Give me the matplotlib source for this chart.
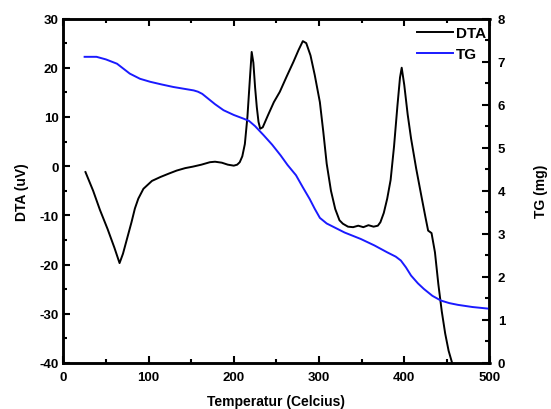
import matplotlib
matplotlib.use("Agg")
import matplotlib.pyplot as plt
from matplotlib.ticker import MultipleLocator

plt.rcParams['font.family'] = 'Liberation Sans'
plt.rcParams['font.weight'] = 'bold'
plt.rcParams['axes.unicode_minus'] = False

# DTA curve (uV) vs temperature (Celcius)
dta_temp = [26, 35, 43, 52, 60, 66, 70, 75, 80, 84, 88, 94, 104, 114, 124, 133,
            143, 152, 162, 172, 178, 186, 193, 200, 204, 207, 210, 213, 216, 219,
            221, 223, 225, 227, 229, 231, 234, 240, 247, 254, 262, 270, 276, 281,
            285, 290, 295, 301, 305, 309, 314, 319, 324, 328, 334, 340, 346, 352,
            358, 364, 369, 372, 376, 380, 384, 388, 392, 395, 397, 400, 404, 408,
            414, 420, 425, 428, 432, 436, 440, 444, 448, 452, 457]
dta_val = [-1.2, -5.0, -8.9, -12.8, -16.6, -19.7, -17.8, -14.6, -11.4, -8.6,
           -6.6, -4.6, -3.0, -2.2, -1.5, -0.9, -0.4, -0.1, 0.3, 0.8, 0.9, 0.7,
           0.3, 0.1, 0.3, 0.8, 2.0, 4.5, 10.0, 18.0, 23.2, 21.0, 16.0, 12.0, 9.0,
           7.6, 7.9, 10.3, 13.0, 15.1, 18.2, 21.2, 23.6, 25.4, 25.0, 22.5, 18.5,
           13.0, 7.0, 0.5, -5.0, -8.7, -11.0, -11.7, -12.3, -12.4, -12.1, -12.4,
           -12.0, -12.3, -12.1, -11.4, -9.5, -6.6, -2.8, 4.0, 12.3, 18.0, 20.0,
           16.5, 10.5, 5.6, -0.5, -6.0, -10.5, -13.1, -13.6, -17.5, -24.0, -29.5,
           -34.0, -37.5, -40.5]

# TG curve (mg) vs temperature
tg_temp = [25, 39, 50, 63, 78, 90, 102, 115, 129, 141, 153, 158, 163, 168, 173,
           178, 188, 200, 212, 218, 225, 235, 245, 255, 263, 273, 281, 289, 295,
           301, 309, 317, 330, 349, 365, 380, 390, 396, 402, 408, 416, 423, 433,
           443, 453, 463, 480, 500]
tg_val = [7.11, 7.11, 7.05, 6.95, 6.72, 6.60, 6.53, 6.47, 6.41, 6.37, 6.33, 6.30,
          6.25, 6.17, 6.09, 6.01, 5.87, 5.76, 5.67, 5.62, 5.50, 5.29, 5.07, 4.82,
          4.60, 4.36, 4.08, 3.81, 3.58, 3.37, 3.24, 3.16, 3.03, 2.88, 2.73, 2.57,
          2.47, 2.38, 2.22, 2.03, 1.85, 1.72, 1.56, 1.45, 1.39, 1.35, 1.30, 1.26]

fig = plt.figure(figsize=(5.51, 4.10), dpi=100)
ax = fig.add_axes([63.3 / 551, 1 - 364 / 410, (489.5 - 63.3) / 551, (364 - 19.5) / 410])
ax2 = ax.twinx()

l1, = ax.plot(dta_temp, dta_val, color='black', lw=1.4, label='DTA')
l2, = ax2.plot(tg_temp, tg_val, color='#1a1aff', lw=1.4, label='TG')

ax.set_xlim(0, 500)
ax.set_ylim(-40, 30)
ax2.set_ylim(0, 8)

ax.xaxis.set_major_locator(MultipleLocator(100))
ax.xaxis.set_minor_locator(MultipleLocator(50))
ax.yaxis.set_major_locator(MultipleLocator(10))
ax.yaxis.set_minor_locator(MultipleLocator(5))
ax2.yaxis.set_major_locator(MultipleLocator(1))
ax2.yaxis.set_minor_locator(MultipleLocator(0.5))

ax.tick_params(which='both', direction='in', top=True, right=False, width=1.5,
               labelsize=9.5)
ax.tick_params(axis='x', pad=6)
ax.tick_params(axis='y', pad=3.5)
ax.tick_params(which='major', length=5)
ax.tick_params(which='minor', length=3)
ax2.tick_params(which='both', direction='in', width=1.5, labelsize=9.5, pad=6)
ax2.tick_params(which='major', length=5)
ax2.tick_params(which='minor', length=3)

for a in (ax, ax2):
    for s in a.spines.values():
        s.set_linewidth(1.8)

ax.set_xlabel('Temperatur (Celcius)', fontsize=10, fontweight='bold', labelpad=8)
ax.set_ylabel('DTA (uV)', fontsize=10, fontweight='bold', labelpad=7)
ax2.set_ylabel('TG (mg)', fontsize=10, fontweight='bold', labelpad=21)

fig.legend(handles=[l1, l2], loc='upper left', bbox_to_anchor=(416.7 / 551, 1 - 27 / 410),
           frameon=False, fontsize=11, handlelength=2.4, handletextpad=0.15,
           labelspacing=0.45, borderpad=0, borderaxespad=0)

fig.savefig('out.png', dpi=100)
